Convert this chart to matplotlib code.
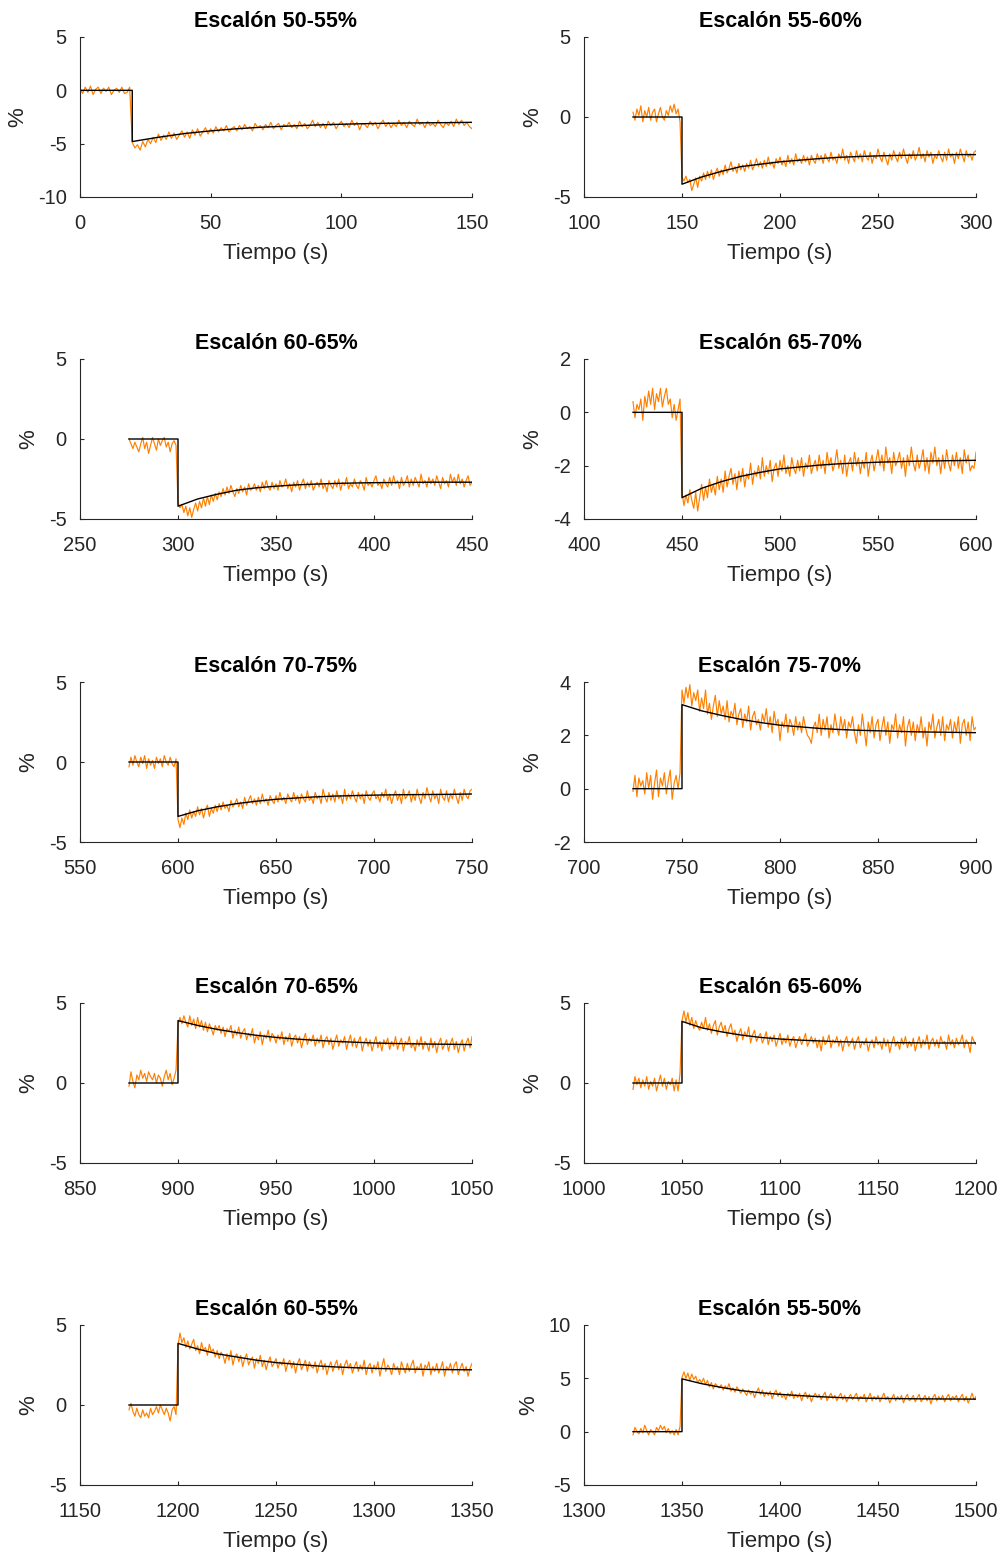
import numpy as np
import matplotlib
matplotlib.use("Agg")
import matplotlib.pyplot as plt

plt.rcParams['font.family'] = ['Liberation Sans', 'DejaVu Sans']
plt.rcParams['axes.unicode_minus'] = False

# Títulos y ejes de cada escalón
titles = ["Escalón 50-55%", "Escalón 55-60%", "Escalón 60-65%", "Escalón 65-70%",
          "Escalón 70-75%", "Escalón 75-70%", "Escalón 70-65%", "Escalón 65-60%",
          "Escalón 60-55%", "Escalón 55-50%"]
step_times = [20, 150, 300, 450, 600, 750, 900, 1050, 1200, 1350]
start_times = [0, 125, 275, 425, 575, 725, 875, 1025, 1175, 1325]
xlims = [(0, 150), (100, 300), (250, 450), (400, 600), (550, 750),
         (700, 900), (850, 1050), (1000, 1200), (1150, 1350), (1300, 1500)]
ylims = [(-10, 5), (-5, 5), (-5, 5), (-4, 2), (-5, 5),
         (-2, 4), (-5, 5), (-5, 5), (-5, 5), (-5, 10)]
ysteps = [5, 5, 5, 2, 5, 2, 5, 5, 5, 5]

# Modelo ajustado (cada 10 s desde el escalón)
fit_1 = [-4.8, -4.4, -4.05, -3.8, -3.6, -3.45, -3.35, -3.25, -3.18, -3.12, -3.08, -3.05, -3.03, -3.0]
fit_2 = [-4.2, -3.75, -3.4, -3.1, -2.95, -2.8, -2.7, -2.6, -2.52, -2.47, -2.43, -2.4, -2.38, -2.36, -2.35, -2.35]
fit_3 = [-4.2, -3.75, -3.45, -3.2, -3.05, -2.95, -2.87, -2.82, -2.78, -2.75, -2.73, -2.72, -2.71, -2.7, -2.7, -2.7]
fit_4 = [-3.2, -2.85, -2.6, -2.4, -2.25, -2.12, -2.05, -1.98, -1.93, -1.9, -1.87, -1.85, -1.83, -1.82, -1.81, -1.8]
fit_5 = [-3.4, -3.05, -2.8, -2.6, -2.45, -2.33, -2.25, -2.18, -2.13, -2.1, -2.07, -2.05, -2.04, -2.03, -2.02, -2.0]
fit_6 = [3.15, 2.92, 2.75, 2.6, 2.48, 2.38, 2.32, 2.26, 2.22, 2.19, 2.17, 2.15, 2.13, 2.12, 2.11, 2.1]
fit_7 = [3.9, 3.6, 3.35, 3.15, 2.98, 2.85, 2.75, 2.67, 2.6, 2.55, 2.5, 2.47, 2.45, 2.43, 2.42, 2.4]
fit_8 = [3.85, 3.45, 3.2, 3.0, 2.85, 2.75, 2.68, 2.63, 2.58, 2.55, 2.53, 2.52, 2.51, 2.5, 2.5, 2.5]
fit_9 = [3.85, 3.5, 3.2, 3.0, 2.8, 2.65, 2.55, 2.45, 2.38, 2.33, 2.29, 2.26, 2.24, 2.22, 2.21, 2.2]
fit_10 = [4.95, 4.5, 4.15, 3.85, 3.65, 3.5, 3.38, 3.28, 3.2, 3.15, 3.12, 3.1, 3.08, 3.07, 3.06, 3.05]

# Medidas (una muestra por segundo desde el inicio de cada ventana)
meas_1 = [0.2, -0.3, 0.3, -0.2, 0.4, -0.4, 0.1, 0.3, -0.3, 0.2, -0.1, 0.3, -0.4, 0.0, 0.2, -0.2, 0.3, -0.3, -0.2, 0.3,
          -4.9, -5.4, -5.1, -5.6, -4.8, -5.3, -4.6, -5.0, -4.4, -4.9,
          -4.1, -4.7, -4.2, -4.6, -3.9, -4.5, -4.0, -4.6, -4.2, -3.8,
          -4.4, -3.9, -4.5, -3.7, -4.2, -3.6, -4.3, -3.9, -3.5, -4.1,
          -3.6, -4.0, -3.4, -3.9, -3.5, -3.8, -3.3, -3.9, -3.6, -3.4,
          -3.8, -3.3, -3.7, -3.2, -3.6, -3.4, -3.8, -3.1, -3.5, -3.3,
          -3.7, -3.2, -3.5, -3.0, -3.6, -3.3, -3.1, -3.7, -3.2, -3.4,
          -3.0, -3.5, -3.2, -3.6, -2.9, -3.4, -3.1, -3.6, -3.3, -2.8,
          -3.4, -3.0, -3.5, -3.1, -3.6, -2.9, -3.3, -3.0, -3.6, -3.2,
          -2.9, -3.4, -3.1, -3.5, -2.8, -3.3, -3.0, -3.7, -3.1, -3.2,
          -3.5, -2.9, -3.3, -3.0, -3.6, -3.1, -2.8, -3.4, -3.0, -3.5,
          -3.1, -3.4, -2.8, -3.3, -3.0, -3.5, -2.9, -3.2, -3.4, -2.7,
          -3.2, -3.0, -3.5, -2.9, -3.3, -3.1, -3.4, -2.8, -3.2, -3.5,
          -3.0, -3.3, -2.9, -3.4, -2.7, -3.2, -2.8, -3.3, -3.0, -3.4, -3.6]
meas_2 = [0.3, -0.2, 0.5, 0.1, 0.7, -0.3, 0.4, 0.0, 0.6, -0.2, 0.3, 0.5, -0.3, 0.2, 0.6, 0.0, -0.2, 0.4, 0.1, 0.7, 0.3, 0.8, 0.2, 0.5, -0.3,
          -3.8, -4.0, -3.7, -4.1, -3.9, -4.6, -4.2, -3.8, -4.4, -3.7,
          -4.0, -3.5, -3.9, -3.4, -3.8, -3.3, -3.9, -3.5, -3.2, -3.7,
          -3.3, -3.6, -3.0, -3.5, -3.2, -2.8, -3.4, -3.1, -3.5, -2.9,
          -3.3, -3.0, -3.4, -2.9, -3.2, -2.7, -3.3, -3.0, -2.6, -3.1,
          -2.8, -3.2, -2.7, -3.1, -2.5, -3.0, -2.8, -3.2, -2.6, -2.9,
          -2.5, -3.0, -2.7, -3.1, -2.4, -2.9, -2.6, -3.0, -2.3, -2.8,
          -2.6, -2.9, -2.4, -2.8, -2.5, -3.0, -2.4, -2.7, -2.9, -2.3,
          -2.7, -2.4, -2.9, -2.3, -2.6, -2.8, -2.2, -2.7, -2.5, -2.9,
          -2.3, -2.6, -2.0, -2.7, -2.4, -2.9, -2.2, -2.5, -2.8, -2.1,
          -2.6, -2.3, -2.8, -2.1, -2.5, -2.7, -2.2, -2.9, -2.4, -2.6,
          -2.0, -2.5, -2.8, -2.2, -2.6, -3.0, -2.3, -2.7, -2.1, -2.5,
          -2.8, -2.2, -2.6, -2.0, -2.5, -2.9, -2.3, -2.6, -2.1, -2.7,
          -2.4, -1.9, -2.6, -2.3, -2.8, -2.1, -2.5, -2.2, -2.9, -2.4,
          -2.6, -2.1, -2.5, -2.8, -2.2, -2.7, -2.0, -2.5, -2.3, -2.9,
          -2.2, -2.6, -2.0, -2.4, -2.8, -2.1, -2.5, -2.3, -2.7, -2.2, -2.1]
meas_3 = [0.0, -0.3, -0.6, -0.2, -0.5, -0.8, -0.3, 0.1, -0.6, -0.2, -0.9, -0.4, 0.1, -0.3, -0.7, 0.0, -0.4, -0.1, 0.1, -0.5, -0.2, -0.8, -0.3, -0.1, -0.4,
          -4.0, -4.3, -4.1, -4.6, -4.2, -4.8, -4.3, -4.9, -4.4, -4.0,
          -4.5, -3.9, -4.3, -3.7, -4.2, -3.6, -4.1, -3.5, -3.9, -3.4,
          -3.8, -3.3, -3.6, -3.1, -3.5, -3.0, -3.4, -2.9, -3.3, -3.6,
          -3.1, -3.4, -2.9, -3.3, -3.0, -3.5, -2.8, -3.2, -3.1, -2.8,
          -3.2, -2.9, -3.3, -2.7, -3.1, -2.6, -3.0, -3.2, -2.7, -3.1,
          -2.8, -3.2, -2.6, -3.0, -2.9, -2.5, -3.1, -2.8, -3.3, -2.7,
          -3.0, -2.6, -3.2, -2.8, -2.5, -3.1, -2.7, -3.0, -2.6, -3.2,
          -2.9, -2.7, -3.0, -2.5, -3.1, -2.8, -3.3, -2.6, -2.9, -3.1,
          -2.6, -3.0, -2.5, -3.2, -2.7, -2.9, -2.4, -3.1, -2.8, -3.0,
          -2.5, -2.9, -3.1, -2.6, -2.8, -3.2, -2.4, -2.9, -2.7, -3.0,
          -2.6, -2.3, -2.9, -2.7, -3.1, -2.5, -2.8, -3.0, -2.4, -2.9,
          -2.3, -2.8, -2.6, -3.1, -2.4, -2.9, -2.7, -2.3, -3.0, -2.5,
          -2.9, -2.4, -2.7, -3.0, -2.2, -2.8, -2.6, -3.0, -2.4, -2.8,
          -2.5, -2.9, -2.3, -2.7, -3.1, -2.4, -2.8, -2.6, -3.0, -2.2,
          -2.7, -2.4, -2.9, -2.2, -2.8, -2.5, -3.0, -2.6, -2.3, -2.9, -2.7]
meas_4 = [0.4, -0.2, 0.3, 0.1, 0.5, -0.3, 0.6, 0.2, 0.8, 0.3, 0.9, 0.1, 0.7, 0.4, 0.9, 0.2, 0.6, 0.9, 0.3, 0.5, -0.2, 0.3, -0.3, 0.1, 0.5,
          -3.0, -3.5, -3.1, -3.4, -2.9, -3.3, -3.6, -3.0, -3.7, -3.2,
          -2.7, -3.3, -2.8, -3.2, -2.5, -3.0, -2.7, -3.1, -2.4, -2.9,
          -2.5, -3.0, -2.2, -2.8, -2.4, -2.1, -2.7, -2.3, -2.9, -2.2,
          -2.6, -2.1, -2.8, -2.3, -2.5, -1.9, -2.7, -2.2, -2.4, -2.0,
          -2.5, -1.7, -2.4, -2.0, -2.3, -1.8, -2.6, -2.1, -1.9, -2.4,
          -1.8, -2.2, -1.6, -2.3, -2.0, -2.4, -1.7, -2.1, -2.3, -1.8,
          -2.2, -1.7, -2.4, -1.9, -2.1, -1.6, -2.3, -2.0, -1.8, -2.2,
          -1.6, -2.1, -1.8, -2.3, -1.5, -2.0, -1.7, -2.2, -1.9, -1.4,
          -2.1, -1.8, -2.3, -1.6, -2.4, -1.9, -1.7, -2.2, -1.5, -2.0,
          -1.7, -2.3, -1.8, -2.1, -1.5, -2.4, -1.9, -1.6, -2.2, -1.8,
          -1.4, -2.0, -1.6, -2.2, -1.3, -1.9, -1.7, -2.3, -1.5, -2.0,
          -1.8, -1.5, -2.1, -1.7, -2.4, -1.6, -2.0, -1.3, -1.9, -2.2,
          -1.6, -2.1, -1.8, -1.4, -2.2, -1.7, -2.3, -1.5, -1.9, -1.3,
          -2.0, -1.7, -2.3, -1.6, -2.1, -1.4, -1.9, -2.2, -1.6, -2.0,
          -1.5, -2.1, -1.7, -2.3, -1.4, -1.9, -1.6, -2.2, -2.0, -2.1, -1.5]
meas_5 = [-0.3, 0.3, -0.2, 0.4, 0.0, -0.3, 0.3, -0.1, 0.4, -0.4, 0.2, -0.2, 0.1, -0.4, 0.3, -0.1, 0.2, -0.3, 0.4, 0.0, -0.2, 0.3, -0.1, -0.3, 0.2,
          -3.6, -4.1, -3.5, -3.9, -3.2, -3.6, -3.0, -3.5, -3.1, -3.4,
          -2.8, -3.3, -2.9, -3.5, -3.0, -2.7, -3.4, -2.9, -3.2, -2.7,
          -3.1, -2.6, -3.0, -2.5, -2.9, -2.7, -3.1, -2.4, -2.8, -2.6,
          -2.3, -2.8, -2.5, -2.9, -2.2, -2.7, -2.4, -2.1, -2.6, -2.3,
          -2.7, -2.2, -2.6, -2.0, -2.5, -2.3, -2.7, -2.1, -2.4, -2.6,
          -2.1, -2.5, -1.9, -2.4, -2.2, -2.6, -2.0, -2.3, -2.5, -1.9,
          -2.4, -2.1, -2.6, -2.0, -2.3, -2.5, -1.8, -2.4, -2.2, -2.6,
          -1.9, -2.3, -2.1, -2.6, -1.7, -2.2, -2.5, -1.9, -2.4, -2.0,
          -2.5, -1.8, -2.3, -2.1, -2.6, -1.7, -2.4, -2.0, -2.3, -1.8,
          -2.2, -2.5, -1.9, -2.3, -2.0, -2.6, -1.8, -2.2, -2.4, -2.0,
          -1.8, -2.3, -2.1, -2.5, -1.9, -2.2, -1.7, -2.4, -2.0, -2.6,
          -2.1, -1.8, -2.4, -2.0, -2.6, -1.7, -2.3, -2.1, -1.8, -2.5,
          -2.0, -2.4, -1.7, -2.2, -2.6, -1.9, -2.3, -1.6, -2.1, -2.5,
          -1.8, -2.3, -2.0, -2.6, -1.7, -2.2, -2.4, -1.8, -2.5, -2.0,
          -2.3, -1.7, -2.2, -2.6, -1.9, -2.4, -1.7, -2.1, -2.3, -1.8, -1.7]
meas_6 = [-0.1, 0.5, -0.3, 0.4, 0.1, 0.3, -0.2, 0.6, 0.0, 0.5, -0.4, 0.2, 0.7, -0.3, 0.4, 0.1, 0.6, -0.2, 0.3, 0.7, -0.4, 0.2, 0.5, 0.0, 0.6,
          3.7, 3.2, 3.8, 3.4, 3.9, 3.1, 3.6, 3.3, 3.7, 2.9,
          3.4, 3.0, 3.7, 2.8, 3.2, 2.6, 3.1, 3.5, 2.7, 3.3,
          2.8, 3.1, 2.6, 3.3, 2.5, 2.9, 2.7, 3.2, 2.4, 2.8,
          3.0, 2.3, 2.8, 2.5, 3.1, 2.2, 2.7, 2.9, 2.4, 2.6,
          2.2, 2.8, 2.5, 3.0, 2.3, 2.7, 2.1, 2.9, 2.4, 2.6,
          1.8, 2.5, 2.3, 2.8, 2.1, 2.6, 2.4, 2.0, 2.7, 2.2,
          2.5, 2.1, 2.7, 2.3, 2.0, 1.9, 1.7, 2.3, 2.5, 2.1,
          2.8, 2.0, 2.6, 2.2, 2.7, 1.9, 2.4, 2.1, 2.8, 2.3,
          2.0, 2.7, 2.2, 2.6, 1.9, 2.5, 2.3, 2.7, 2.1, 1.7,
          2.4, 2.0, 2.8, 2.2, 1.6, 2.5, 2.1, 2.7, 1.9, 2.4,
          2.6, 1.8, 2.3, 2.7, 2.0, 2.5, 1.7, 2.4, 2.2, 2.8,
          1.9, 2.4, 2.1, 2.7, 1.6, 2.3, 2.6, 2.0, 2.5, 1.8,
          2.4, 2.1, 2.7, 1.9, 2.3, 1.6, 2.5, 2.2, 2.8, 1.9,
          2.3, 2.6, 2.0, 2.7, 1.8, 2.4, 2.2, 2.6, 1.9, 2.5,
          2.1, 2.7, 1.7, 2.4, 2.6, 2.0, 2.5, 1.8, 2.7, 2.2, 2.3]
meas_7 = [-0.2, 0.7, 0.1, -0.3, 0.5, 0.2, 0.8, 0.3, 0.6, 0.1, 0.7, 0.4, 0.2, 0.6, 0.0, 0.5, 0.3, -0.2, 0.4, 0.8, 0.2, 0.6, -0.1, 0.3, 0.8,
          3.6, 4.1, 3.7, 4.2, 3.8, 3.5, 4.2, 3.6, 4.0, 3.4,
          4.1, 3.5, 3.9, 3.3, 3.8, 3.2, 3.7, 3.4, 3.0, 3.6,
          3.3, 3.6, 3.1, 3.5, 2.9, 3.4, 3.2, 3.6, 2.8, 3.3,
          3.0, 3.5, 2.8, 3.2, 3.4, 2.7, 3.1, 2.9, 3.4, 2.5,
          3.0, 2.7, 3.2, 2.4, 3.0, 2.8, 3.3, 2.6, 3.1, 2.9,
          2.5, 3.0, 2.7, 3.2, 2.4, 2.9, 2.6, 3.1, 2.3, 2.8,
          3.0, 2.5, 2.9, 2.2, 2.7, 3.1, 2.4, 2.8, 2.6, 3.0,
          2.3, 2.8, 2.5, 3.0, 2.2, 2.7, 2.9, 2.4, 2.8, 2.1,
          2.6, 3.0, 2.3, 2.7, 2.5, 2.9, 2.1, 2.6, 3.0, 2.3,
          2.8, 2.2, 2.6, 2.9, 2.0, 2.5, 2.8, 2.3, 2.7, 2.0,
          2.5, 2.9, 2.2, 2.6, 2.0, 2.7, 2.4, 2.8, 2.1, 2.6,
          2.3, 2.9, 2.1, 2.5, 2.8, 2.0, 2.6, 2.4, 2.9, 2.2,
          2.5, 2.0, 2.7, 2.3, 2.9, 2.1, 2.6, 2.4, 2.0, 2.8,
          2.2, 2.6, 1.9, 2.5, 2.8, 2.1, 2.4, 2.7, 2.0, 2.5,
          2.8, 2.1, 2.6, 1.9, 2.4, 2.7, 2.0, 2.5, 2.8, 2.2, 2.9]
meas_8 = [-0.4, 0.4, -0.1, 0.3, -0.3, 0.2, -0.2, 0.4, -0.4, 0.1, -0.2, 0.3, -0.5, 0.0, 0.5, -0.2, 0.3, -0.4, 0.1, -0.1, 0.3, -0.5, 0.2, -0.5, 0.6,
          3.9, 4.5, 3.8, 4.4, 3.6, 4.1, 3.4, 3.9, 3.5, 3.3,
          3.8, 3.4, 4.1, 3.3, 3.7, 3.1, 3.6, 3.9, 3.0, 3.5,
          3.8, 3.2, 3.6, 2.9, 3.4, 3.7, 3.0, 3.3, 2.6, 3.1,
          3.4, 2.7, 3.2, 2.9, 3.5, 2.5, 3.0, 3.3, 2.6, 2.9,
          3.1, 2.5, 2.8, 3.2, 2.4, 2.9, 2.6, 3.0, 2.3, 2.7,
          3.1, 2.4, 2.8, 2.5, 3.0, 2.3, 2.7, 2.9, 2.2, 2.6,
          2.9, 2.4, 2.7, 3.1, 2.3, 2.6, 2.9, 2.5, 2.8, 2.2,
          2.7, 2.0, 2.9, 2.4, 2.6, 3.0, 2.2, 2.7, 2.5, 2.9,
          2.3, 2.7, 2.0, 2.6, 2.9, 2.3, 2.5, 2.8, 2.1, 2.6,
          2.9, 2.2, 2.6, 2.4, 2.8, 2.0, 2.5, 2.7, 2.2, 2.9,
          2.4, 2.6, 2.1, 2.8, 2.3, 2.7, 1.9, 2.5, 2.9, 2.3,
          2.6, 2.1, 2.8, 2.4, 2.9, 2.2, 2.6, 2.3, 2.8, 2.0,
          2.5, 2.9, 2.2, 2.7, 2.4, 3.0, 2.1, 2.6, 2.8, 2.3,
          2.7, 2.2, 2.9, 2.5, 2.6, 2.1, 3.0, 2.4, 2.7, 2.2,
          2.8, 2.4, 2.6, 3.0, 2.2, 2.7, 2.5, 1.9, 2.9, 2.6, 2.4]
meas_9 = [-0.3, 0.1, -0.4, -0.7, -0.2, -0.6, -0.8, -0.3, -0.7, -0.5, -0.8, -0.2, -0.6, -0.4, -0.1, -0.5, 0.0, -0.3, -0.6, -0.2, -0.5, -1.0, -0.3, -0.1, -0.6,
          3.7, 4.5, 3.9, 4.2, 3.6, 4.0, 3.5, 3.8, 4.1, 3.4,
          3.7, 3.2, 3.9, 3.4, 3.6, 3.1, 3.8, 3.3, 3.5, 3.0,
          3.4, 2.9, 3.3, 3.1, 2.6, 3.2, 2.8, 3.4, 2.5, 3.0,
          3.2, 2.7, 3.1, 2.4, 2.9, 3.2, 2.5, 2.8, 3.0, 2.3,
          2.9, 2.6, 3.1, 2.4, 2.8, 2.2, 2.7, 3.0, 2.4, 2.6,
          2.9, 2.3, 2.7, 2.5, 2.9, 2.1, 2.6, 2.8, 2.3, 2.7,
          2.0, 2.6, 2.9, 2.2, 2.5, 2.8, 2.1, 2.7, 2.4, 2.3,
          2.7, 2.0, 2.5, 2.8, 2.2, 2.6, 1.9, 2.4, 2.7, 2.1,
          2.5, 2.8, 2.2, 2.6, 1.9, 2.5, 2.8, 2.3, 2.6, 2.0,
          2.4, 2.7, 2.1, 2.5, 2.2, 2.8, 1.9, 2.4, 2.6, 2.0,
          2.5, 2.2, 2.7, 1.8, 2.4, 2.9, 2.1, 2.5, 2.3, 1.9,
          2.6, 2.2, 2.4, 1.9, 2.7, 2.3, 2.0, 2.6, 2.1, 2.5,
          2.8, 2.0, 2.4, 2.2, 2.6, 1.8, 2.5, 2.3, 2.7, 1.9,
          2.4, 2.1, 2.6, 2.0, 2.3, 2.7, 1.8, 2.4, 2.2, 2.6,
          2.0, 2.5, 2.7, 1.9, 2.3, 2.6, 2.1, 2.4, 1.8, 2.3, 2.6]
meas_10 = [-0.3, 0.4, 0.0, -0.2, 0.3, -0.1, 0.6, 0.1, -0.3, 0.2, 0.0, -0.3, 0.4, 0.1, 0.6, 0.2, 0.5, -0.1, 0.3, -0.2, 0.1, -0.3, 0.2, -0.3, 0.5,
           5.1, 5.6, 5.0, 5.5, 4.8, 5.4, 4.9, 5.2, 4.6, 4.9,
           4.6, 5.0, 4.4, 4.8, 4.2, 4.6, 4.0, 4.5, 4.3, 4.1,
           4.4, 3.9, 4.3, 4.0, 4.5, 3.8, 4.1, 3.7, 4.2, 3.9,
           3.6, 4.0, 3.7, 3.4, 3.9, 3.5, 3.8, 3.2, 3.7, 4.1,
           3.5, 3.9, 3.3, 3.7, 3.4, 3.8, 3.1, 3.6, 3.9, 3.3,
           3.7, 3.2, 3.5, 3.0, 3.6, 3.3, 3.8, 3.1, 3.5, 3.2,
           3.6, 2.9, 3.4, 3.7, 3.1, 3.5, 2.8, 3.3, 3.6, 3.2,
           3.5, 3.0, 3.4, 3.7, 2.9, 3.3, 3.6, 3.1, 3.4, 2.9,
           3.3, 3.6, 3.0, 3.4, 2.8, 3.2, 3.5, 3.0, 3.3, 3.6,
           2.9, 3.3, 3.1, 3.5, 2.8, 3.2, 3.6, 2.9, 3.3, 3.0,
           3.4, 2.8, 3.2, 3.6, 3.0, 3.3, 2.7, 3.1, 3.5, 2.9,
           3.3, 3.0, 3.4, 2.7, 3.2, 3.5, 2.9, 3.1, 3.4, 2.8,
           3.2, 3.5, 2.8, 3.1, 3.4, 2.9, 3.3, 2.6, 3.2, 3.5,
           2.9, 3.3, 3.0, 3.4, 2.8, 3.2, 3.5, 2.9, 3.3, 3.1,
           3.4, 2.8, 3.2, 3.5, 2.9, 3.3, 2.7, 3.1, 3.6, 3.0, 3.3]

fits = [fit_1, fit_2, fit_3, fit_4, fit_5, fit_6, fit_7, fit_8, fit_9, fit_10]
meas = [meas_1, meas_2, meas_3, meas_4, meas_5, meas_6, meas_7, meas_8, meas_9, meas_10]

W, H = 1001, 1558
fig = plt.figure(figsize=(W / 100, H / 100), dpi=100)

# posiciones de los ejes en píxeles
col_left = [80, 584]
row_top = [37, 359, 682, 1003, 1325]
ax_w, ax_h = 392, 160

axis_col = '#262626'
for i in range(10):
    r, c = divmod(i, 2)
    x0 = col_left[c] / W
    y0 = (H - row_top[r] - ax_h) / H
    ax = fig.add_axes([x0, y0, ax_w / W, ax_h / H])

    y = np.array(meas[i])
    t = start_times[i] + np.arange(len(y))
    ax.plot(t, y, color='#ff8000', lw=0.85)

    f = fits[i]
    tf = np.r_[start_times[i], step_times[i], step_times[i] + 10 * np.arange(len(f))]
    yf = np.r_[0, 0, f]
    ax.plot(tf, yf, color='black', lw=1.0)

    ax.set_xlim(*xlims[i])
    ax.set_ylim(*ylims[i])
    ax.set_xticks(np.arange(xlims[i][0], xlims[i][1] + 1, 50))
    ax.set_yticks(np.arange(ylims[i][0], ylims[i][1] + 0.1, ysteps[i]))

    for s in ['top', 'right']:
        ax.spines[s].set_visible(False)
    for s in ['left', 'bottom']:
        ax.spines[s].set_color(axis_col)
        ax.spines[s].set_linewidth(0.8)
    ax.tick_params(direction='in', length=3, width=0.8, colors=axis_col,
                   labelsize=14.5)
    ax.tick_params(axis='x', pad=12.5)
    ax.tick_params(axis='y', pad=9.5)
    ax.set_title(titles[i], fontsize=15.5, fontweight='bold', pad=7)
    ax.set_xlabel('Tiempo (s)', fontsize=16, color=axis_col, labelpad=7)
    ax.set_ylabel('%', fontsize=16, color=axis_col, labelpad=7)

fig.savefig('out.png', dpi=100)
